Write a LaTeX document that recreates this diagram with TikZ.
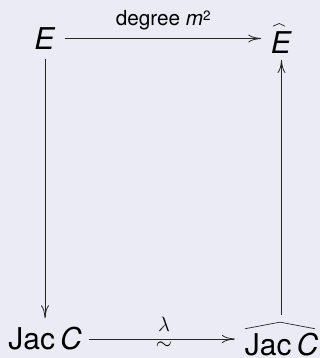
\documentclass[tikz,border=0pt]{standalone}
\usepackage{fontspec}
\setmainfont{TeX Gyre Heros}
\usetikzlibrary{arrows.meta,calc}
\definecolor{bg}{RGB}{235,235,245}
\begin{document}
\begin{tikzpicture}[x=1pt,y=1pt,
  obj/.style={inner sep=0pt, outer sep=0pt, font=\fontsize{30}{36}\selectfont},
  arr/.style={draw=black!85, line width=0.8pt, -{To[length=13pt,width=8pt]}},
  hatline/.style={draw=black!85, line width=0.7pt},
  lbl/.style={font=\fontsize{20.74}{25}\selectfont, inner sep=0pt}]
\fill[bg] (0,0) rectangle (320,358);
\useasboundingbox (0,0) rectangle (320,358);
\node[obj] (E) at (45,319.5) {\textit{E}};
\node[obj, text height=30pt, text depth=0pt] (Eh) at (281.5,319.5) {\textit{E}};
\node[obj] (J) at (45,19) {Jac\,\textit{C}};
\node[obj, text height=33.7pt, text depth=0pt] (Jh) at (281.5,19) {Jac\,\textit{C}};
\draw[hatline] ($(Eh.north)+(-8.5,-2.7)$) -- ($(Eh.north)+(-2.2,0)$) -- ($(Eh.north)+(3.5,-2.7)$);
\draw[hatline] ($(Jh.north)+(-36.5,-6.6)$) -- ($(Jh.north)+(-1.5,0)$) -- ($(Jh.north)+(33.5,-6.6)$);
\draw[arr, shorten <=9.3pt, shorten >=9.8pt] (E) -- (Eh);
\node[lbl, anchor=base] (l1) at ($(E)!0.5!(Eh)+(0,13)$) {degree \textit{m}\raisebox{5pt}{\fontsize{13.5}{15}\selectfont 2}};
\draw[arr, shorten <=7.6pt, shorten >=9.85pt] (J) -- (Jh);
\node[lbl, anchor=base] (l2) at (164,26.8) {$\lambda$};
\node[lbl] (l3) at (164,12) {$\sim$};
\draw[arr, shorten <=9.5pt, shorten >=9.25pt] (E) -- (J);
\draw[arr, shorten <=7.6pt, shorten >=6.5pt] (Jh) -- (Eh);
\end{tikzpicture}
\end{document}
